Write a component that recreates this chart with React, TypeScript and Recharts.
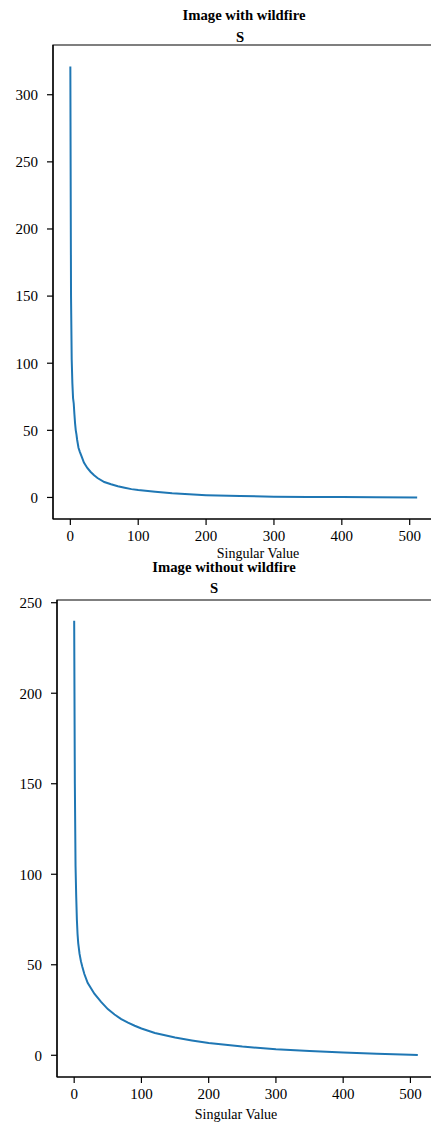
import { LineChart, Line, XAxis, YAxis, ReferenceArea } from 'recharts';

// singular values (index -> value)
const fireIdx = [0, 1, 2, 3, 4, 5, 6, 7, 8, 9, 10, 12, 14, 17, 20, 25, 30, 35, 40, 50, 60, 70, 80, 90, 100, 125, 150, 175, 200, 250, 300, 350, 400, 450, 511];
const fireS = [321, 150, 103, 85, 74, 70, 62, 55, 50, 47, 43, 37, 34, 30, 26, 22, 19, 16.5, 14.5, 11.5, 9.8, 8.3, 7.2, 6.2, 5.5, 4.2, 3.1, 2.3, 1.7, 1.0, 0.6, 0.4, 0.25, 0.15, 0.05];

const noFireIdx = [0, 1, 2, 3, 4, 5, 6, 8, 10, 12, 15, 20, 25, 30, 40, 50, 60, 70, 80, 90, 100, 120, 150, 175, 200, 250, 300, 350, 400, 450, 500, 511];
const noFireS = [240, 150, 105, 88, 75, 67, 62, 56, 52, 49, 45, 40, 37, 34, 29.5, 25.5, 22.5, 20, 18, 16.3, 14.8, 12.3, 9.8, 8.2, 6.8, 4.8, 3.3, 2.3, 1.5, 0.9, 0.3, 0.1];

const xTicks = [0, 100, 200, 300, 400, 500];
const fireTicks = [0, 50, 100, 150, 200, 250, 300];
const noFireTicks = [0, 50, 100, 150, 200, 250];

const fireRows = fireIdx.map((i, k) => ({ i, v: fireS[k] }));
const noFireRows = noFireIdx.map((i, k) => ({ i, v: noFireS[k] }));

const font = '"Liberation Serif", "Times New Roman", serif';
const tickStyle = { fontFamily: font, fontSize: 15, fill: '#000' };
const XDOM: [number, number] = [-25.55, 536.55];

const Panel = ({ rows, yDom, yTicks, top, margin, yWidth, xHeight }: any) => (
  <div style={{ position: 'absolute', left: 0, top }}>
    <LineChart width={440} height={560} data={rows} margin={margin}>
      <ReferenceArea x1={XDOM[0]} x2={XDOM[1]} y1={yDom[0]} y2={yDom[1]} fill="none" stroke="#000" strokeWidth={1.2} />
      <XAxis
        type="number"
        dataKey="i"
        domain={XDOM}
        ticks={xTicks}
        allowDataOverflow
        height={xHeight}
        tickSize={6}
        tickMargin={5}
        tick={tickStyle}
        stroke="#000"
        strokeWidth={1.2}
      />
      <YAxis
        type="number"
        domain={yDom}
        ticks={yTicks}
        allowDataOverflow
        width={yWidth}
        tickSize={6}
        tickMargin={9}
        tick={tickStyle}
        stroke="#000"
        strokeWidth={1.2}
      />
      <Line type="linear" dataKey="v" stroke="#1f77b4" strokeWidth={2} dot={false} isAnimationActive={false} />
    </LineChart>
  </div>
);

export default function App() {
  return (
    <div style={{ position: 'absolute', left: 0, top: 0, width: 431, height: 1125, overflow: 'hidden', background: '#fff' }}>
      <Panel rows={fireRows} yDom={[-16.05, 337.05]} yTicks={fireTicks} top={0}
        margin={{ top: 45, right: 5.5, left: 0, bottom: 0 }} yWidth={53} xHeight={41} />
      <Panel rows={noFireRows} yDom={[-12, 251.5]} yTicks={noFireTicks} top={560}
        margin={{ top: 40, right: 5, left: 0, bottom: 0 }} yWidth={57} xHeight={43} />
      <svg width={431} height={1125} style={{ position: 'absolute', left: 0, top: 0, pointerEvents: 'none' }}>
        <g fontFamily={font} fill="#000" textAnchor="middle">
          <text x={244} y={19.8} fontSize={14.7} fontWeight="bold">Image with wildfire</text>
          <text x={240} y={42} fontSize={14.7} fontWeight="bold">S</text>
          <text x={258} y={557.6} fontSize={14}>Singular Value</text>
          <text x={224} y={571.5} fontSize={14.7} fontWeight="bold">Image without wildfire</text>
          <text x={214} y={593} fontSize={14.7} fontWeight="bold">S</text>
          <text x={236} y={1118.6} fontSize={14}>Singular Value</text>
        </g>
      </svg>
    </div>
  );
}
